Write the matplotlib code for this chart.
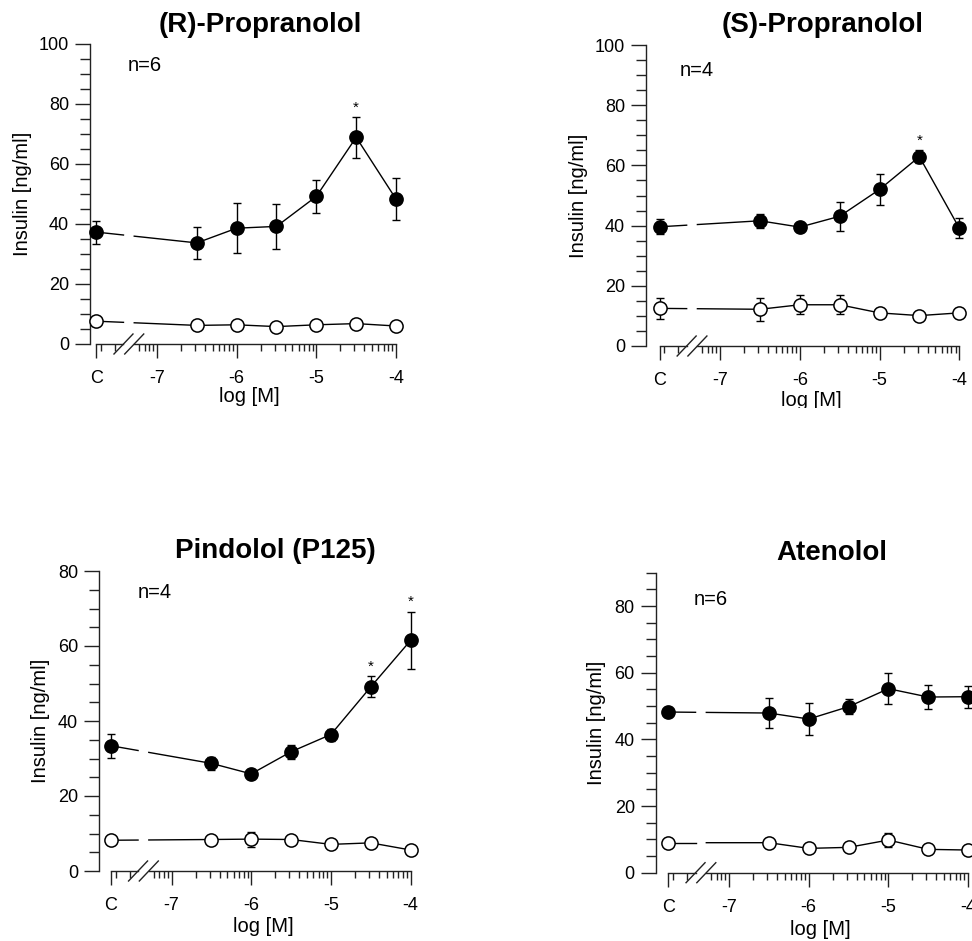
import matplotlib.pyplot as plt
import numpy as np
from matplotlib.lines import Line2D
from matplotlib.patches import Rectangle
from matplotlib.transforms import IdentityTransform

plt.rcParams['font.family'] = ['Liberation Sans', 'DejaVu Sans']

W, H = 972, 941
fig = plt.figure(figsize=(W / 100, H / 100), dpi=100)

# x positions: control (C) sits left of the axis break, then log concentrations
C_POS = -7.76
doses = [C_POS, -6.5, -6, -5.5, -5, -4.5, -4]
tick_pos = [C_POS, -7, -6, -5, -4]
tick_lab = ['C', '-7', '-6', '-5', '-4']
BREAK = (-7.42, -7.285)

titles = ['(R)-Propranolol', '(S)-Propranolol', 'Pindolol (P125)', 'Atenolol']
n_labels = ['n=6', 'n=4', 'n=4', 'n=6']
y_max = [100, 100, 80, 90]

# (R)-Propranolol
r_fill = [37.3, 33.7, 38.6, 39.2, 49.2, 68.9, 48.3]
r_fill_err = [3.8, 5.2, 8.3, 7.6, 5.6, 6.8, 6.9]
r_open = [7.6, 6.2, 6.4, 5.8, 6.4, 6.8, 6.0]
r_open_err = [0.8, 0.8, 0.8, 0.8, 0.8, 0.8, 0.8]
r_stars = [5]

# (S)-Propranolol
s_fill = [39.6, 41.6, 39.5, 43.1, 52.0, 62.9, 39.2]
s_fill_err = [2.5, 2.3, 1.0, 4.8, 5.3, 2.2, 3.4]
s_open = [12.5, 12.2, 13.7, 13.7, 11.0, 10.1, 11.0]
s_open_err = [3.5, 3.8, 3.1, 3.1, 1.0, 0.8, 1.0]
s_stars = [5]

# Pindolol (P125)
p_fill = [33.4, 28.7, 25.9, 31.8, 36.4, 49.1, 61.5]
p_fill_err = [3.2, 1.8, 1.0, 1.9, 1.6, 2.8, 7.7]
p_open = [8.2, 8.4, 8.5, 8.4, 7.1, 7.5, 5.6]
p_open_err = [0.8, 0.8, 2.0, 0.8, 0.8, 0.8, 0.8]
p_stars = [5, 6]

# Atenolol
a_fill = [48.2, 47.9, 46.1, 49.8, 55.2, 52.7, 52.8]
a_fill_err = [1.0, 4.6, 4.9, 2.3, 4.6, 3.7, 3.3]
a_open = [9.0, 9.0, 7.3, 7.6, 9.8, 7.0, 6.8]
a_open_err = [0.8, 0.8, 0.8, 0.8, 2.0, 0.8, 0.8]
a_stars = []

fills = [r_fill, s_fill, p_fill, a_fill]
fill_errs = [r_fill_err, s_fill_err, p_fill_err, a_fill_err]
opens = [r_open, s_open, p_open, a_open]
open_errs = [r_open_err, s_open_err, p_open_err, a_open_err]
stars = [r_stars, s_stars, p_stars, a_stars]

# layout in pixels: y-axis x, top y, bottom y, xlim left
boxes = [(90, 44, 344, -7.84), (646, 45, 346, -7.93),
         (99, 571, 871, -7.91), (655.7, 572.7, 872.7, -7.92)]
title_xy = [(260, 31.7), (822.5, 32.3), (275, 558.3), (831.7, 560)]
ylab_x = [22, 578, 40.5, 597]
xlab_xy = [(249, 402), (811.7, 406.5), (263.3, 931.5), (820.8, 935)]
n_xy = [(128, 71), (680, 75.7), (137.3, 598.3), (693.3, 605)]

DECADE = 79.7
axc = '#222222'


def fx(px):
    return px / W


def fy(py):
    return 1 - py / H


def draw_series(ax, y, err, face):
    x = np.array(doses)
    y = np.array(y)
    ax.errorbar(x, y, yerr=err, fmt='none', ecolor='black', elinewidth=1,
                capsize=3, capthick=1, clip_on=False, zorder=2)
    # line broken at the axis break
    y_lo = np.interp(BREAK[0], x[:2], y[:2])
    y_hi = np.interp(BREAK[1], x[:2], y[:2])
    ax.plot([x[0], BREAK[0]], [y[0], y_lo], color='black', lw=1, zorder=2, clip_on=False)
    ax.plot(np.r_[BREAK[1], x[1:]], np.r_[y_hi, y[1:]], color='black', lw=1,
            zorder=2, clip_on=False)
    ax.plot(x, y, 'o', ms=9.5, mfc=face, mec='black', mew=1.1, zorder=3, clip_on=False)


minor = [d + np.log10(k) for d in range(-8, -4) for k in range(2, 10)]
minor = [m for m in minor if m > C_POS + 0.03 and not (-7.47 < m < -7.26)]

for i in range(4):
    left, top, bottom, xl = boxes[i]
    width = (-4 - xl) * DECADE
    ax = fig.add_axes([fx(left), fy(bottom), width / W, (bottom - top) / H])
    ax.set_xlim(xl, -4)
    ax.set_ylim(0, y_max[i])

    draw_series(ax, opens[i], open_errs[i], 'white')
    draw_series(ax, fills[i], fill_errs[i], 'black')
    for j in stars[i]:
        ax.annotate('*', xy=(doses[j], fills[i][j] + fill_errs[i][j]), xytext=(0, 4),
                    textcoords='offset points', ha='center', va='baseline', fontsize=11)

    for s in ['top', 'right', 'bottom']:
        ax.spines[s].set_visible(False)
    ax.spines['left'].set_color(axc)
    ax.spines['left'].set_linewidth(1)

    ax.set_yticks(np.arange(0, y_max[i] + 0.1, 20) if y_max[i] != 90 else np.arange(0, 81, 20))
    ax.set_yticks(np.arange(0, y_max[i] + 0.1, 5), minor=True)
    ax.set_xticks(tick_pos, tick_lab)
    ax.set_xticks(minor, minor=True)
    ax.tick_params(axis='y', which='major', length=11, width=1, color=axc, pad=4, labelsize=13)
    ax.tick_params(axis='y', which='minor', length=7, width=1, color=axc)
    ax.tick_params(axis='x', which='major', length=10, width=1, color=axc, pad=9, labelsize=13)
    ax.tick_params(axis='x', which='minor', length=5, width=1, color=axc)

    # broken x axis line with // marks
    xt = ax.get_xaxis_transform()
    ax.plot([C_POS, BREAK[0]], [0, 0], color=axc, lw=1, transform=xt, clip_on=False)
    ax.plot([BREAK[1], -4], [0, 0], color=axc, lw=1, transform=xt, clip_on=False)
    for xb in BREAK:
        cx, cy = ax.transData.transform((xb, 0))
        ax.add_line(Line2D([cx - 9.5, cx + 9.5], [cy - 10, cy + 10], color=axc, lw=1,
                           transform=IdentityTransform(), clip_on=False))

    fig.text(fx(title_xy[i][0]), fy(title_xy[i][1]), titles[i], fontsize=20,
             fontweight='bold', ha='center', va='baseline')
    fig.text(fx(ylab_x[i]), fy((top + bottom) / 2), 'Insulin [ng/ml]', fontsize=14.5,
             rotation=90, ha='center', va='center')
    fig.text(fx(xlab_xy[i][0]), fy(xlab_xy[i][1]), 'log [M]', fontsize=14.5,
             ha='center', va='baseline')
    fig.text(fx(n_xy[i][0]), fy(n_xy[i][1]), n_labels[i], fontsize=14.5,
             ha='left', va='baseline')

# the top-right panel is cropped just below its x label in the original
fig.add_artist(Rectangle((fx(500), fy(440)), 1 - fx(500), (440 - 407.5) / H,
                         transform=fig.transFigure, facecolor='white',
                         edgecolor='none', zorder=10))

fig.savefig('out.png', dpi=100)
